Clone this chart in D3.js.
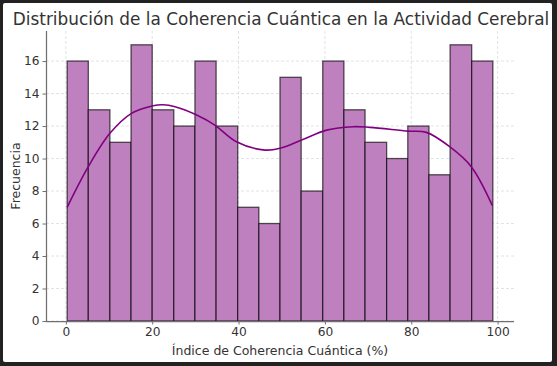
<!DOCTYPE html>
<html><head><meta charset="utf-8">
<script src="https://cdn.jsdelivr.net/npm/d3@7/dist/d3.min.js"></script>
<style>
html,body{margin:0;padding:0;background:#222;}
svg{display:block;font-family:"DejaVu Sans",sans-serif;}
</style></head><body>
<svg id="c" width="557" height="366"></svg>
<script>
const binEdges = [0.3, 5.2, 10.2, 15.1, 20.0, 25.0, 29.9, 34.8, 39.8, 44.7, 49.6, 54.5, 59.5, 64.4, 69.3, 74.3, 79.2, 84.1, 89.0, 94.0, 98.9];
const counts = [16, 13, 11, 17, 13, 12, 16, 12, 7, 6, 15, 8, 16, 13, 11, 10, 12, 9, 17, 16];
const kdeX = [0.3, 5.2, 10.2, 15.2, 20.2, 22.5, 25.3, 30.3, 34.5, 39.5, 46.1, 49.6, 54.6, 60.4, 66.5, 70.4, 79.3, 83.5, 88.9, 93.9, 98.8];
const kdeY = [7.0, 9.5, 11.55, 12.78, 13.25, 13.31, 13.19, 12.68, 12.06, 11.03, 10.52, 10.63, 11.14, 11.75, 11.96, 11.92, 11.69, 11.61, 10.73, 9.5, 7.1];
const xTicks = [0, 20, 40, 60, 80, 100];
const yTicks = [0, 2, 4, 6, 8, 10, 12, 14, 16];
const title = "Distribución de la Coherencia Cuántica en la Actividad Cerebral";
const xLabel = "Índice de Coherencia Cuántica (%)";
const yLabel = "Frecuencia";

const svg = d3.select("#c");
svg.append("rect").attr("x",3).attr("y",3).attr("width",549).attr("height",359).attr("fill","#fff").attr("rx",2);

const L=46, R=514, T=31, B=321;
const x = d3.scaleLinear().domain([-4.6, 103.8]).range([L, R]);
const y = d3.scaleLinear().domain([0, 17.85]).range([B, T]);

// grid
const g = svg.append("g");
g.selectAll(".gx").data(xTicks).enter().append("line")
  .attr("x1",d=>x(d)).attr("x2",d=>x(d)).attr("y1",T).attr("y2",B)
  .attr("stroke","#dadada").attr("stroke-width",0.8).attr("stroke-dasharray","3,2");
g.selectAll(".gy").data(yTicks).enter().append("line")
  .attr("x1",L).attr("x2",R).attr("y1",d=>y(d)).attr("y2",d=>y(d))
  .attr("stroke","#dadada").attr("stroke-width",0.8).attr("stroke-dasharray","3,2");

// bars
svg.append("g").selectAll("rect").data(counts).enter().append("rect")
  .attr("x",(d,i)=>x(binEdges[i])).attr("width",(d,i)=>x(binEdges[i+1])-x(binEdges[i]))
  .attr("y",d=>y(d)).attr("height",d=>B-y(d))
  .attr("fill","#bf80bf").attr("stroke","#000").attr("stroke-opacity",0.65).attr("stroke-width",1.3);

// kde
const line = d3.line().x(d=>x(d[0])).y(d=>y(d[1])).curve(d3.curveCatmullRom);
svg.append("path").datum(kdeX.map((v,i)=>[v,kdeY[i]])).attr("d",line)
  .attr("fill","none").attr("stroke","#800080").attr("stroke-width",1.6);

// axes
const xa = svg.append("g").attr("transform",`translate(0,${B})`)
  .call(d3.axisBottom(x).tickValues(xTicks).tickSize(3.5).tickPadding(3).tickFormat(d3.format("d")));
const ya = svg.append("g").attr("transform",`translate(${L},0)`)
  .call(d3.axisLeft(y).tickValues(yTicks).tickSize(3.5).tickPadding(3).tickFormat(d3.format("d")));
[xa,ya].forEach(a=>{
  a.select(".domain").attr("stroke","#707070").attr("stroke-width",1.25);
  a.selectAll(".tick line").attr("stroke","#707070").attr("stroke-width",1);
  a.selectAll("text").attr("fill","#333").style("font-size","12.2px").style("font-family","DejaVu Sans");
});
xa.select(".domain").attr("d",`M${L},0.5H${R}`);
ya.select(".domain").attr("d",`M0.5,${B}V${T}`);

svg.append("text").attr("x",281).attr("y",25).attr("text-anchor","middle")
  .attr("fill","#333").style("font-size","16.9px").text(title);
svg.append("text").attr("x",280).attr("y",355).attr("text-anchor","middle")
  .attr("fill","#333").style("font-size","12.5px").text(xLabel);
svg.append("text").attr("transform","translate(20,176) rotate(-90)").attr("text-anchor","middle")
  .attr("fill","#333").style("font-size","12.5px").text(yLabel);
</script></body></html>
